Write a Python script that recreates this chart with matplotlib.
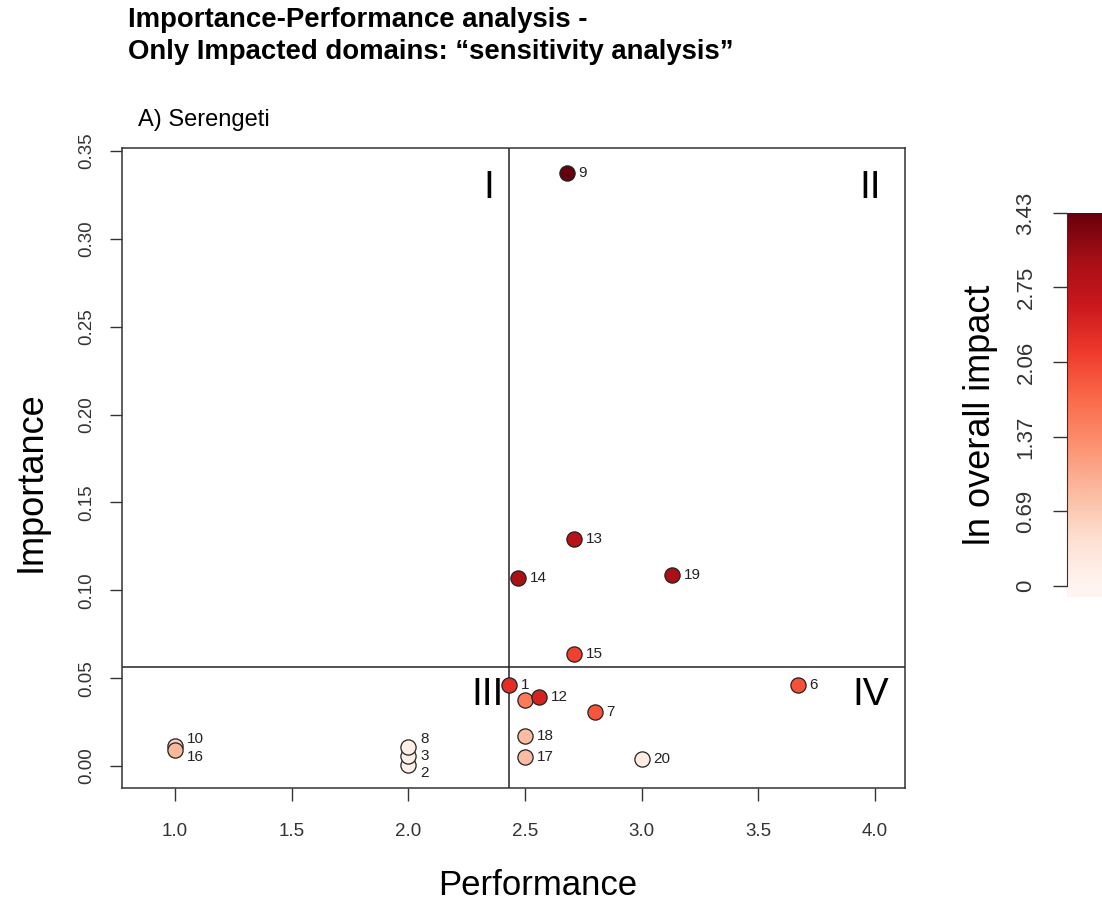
import numpy as np
import matplotlib
matplotlib.use('Agg')
import matplotlib.pyplot as plt

# domain data
domains = ['1', '2', '3', '5', '6', '7', '8', '9', '10', '12',
           '13', '14', '15', '16', '17', '18', '19', '20']
performance = [2.43, 2.0, 2.0, 2.50, 3.67, 2.80, 2.0, 2.68, 1.0, 2.56,
               2.71, 2.47, 2.71, 1.0, 2.50, 2.50, 3.13, 3.0]
importance = [0.046, 0.0006, 0.0057, 0.0376, 0.046, 0.0307, 0.0108, 0.3375, 0.0114, 0.0393,
              0.129, 0.107, 0.0637, 0.0091, 0.0051, 0.0171, 0.1087, 0.0040]
ln_impact = [2.3, 0.08, 0.12, 1.55, 1.95, 1.9, 0.15, 3.43, 0.6, 2.45,
             2.8, 2.95, 2.1, 0.9, 0.85, 0.85, 2.95, 0.2]

x_ticks = [1.0, 1.5, 2.0, 2.5, 3.0, 3.5, 4.0]
y_ticks = [0.00, 0.05, 0.10, 0.15, 0.20, 0.25, 0.30, 0.35]
cbar_ticks = [0, 0.69, 1.37, 2.06, 2.75, 3.43]
x_cut = 2.43
y_cut = 0.0563
quadrants = ['I', 'II', 'III', 'IV']
quad_x = [2.345, 3.98, 2.34, 3.98]
quad_y = [0.329, 0.329, 0.0404, 0.0404]

# labels that were nudged up/down to avoid overlapping (points)
nudge = {'10': 5, '16': -5, '8': 6, '3': 0, '2': -6}

sans = ['Liberation Sans', 'DejaVu Sans']
plt.rcParams['font.family'] = sans

W, H = 1102, 922
fig = plt.figure(figsize=(W / 100, H / 100), dpi=100)
ax = fig.add_axes([122 / W, 1 - 788 / H, (905 - 122) / W, (788 - 148) / H])

cmap = plt.get_cmap('Reds')
vmax = 3.43
ax.axvline(x_cut, color='#222222', lw=1.1, zorder=1)
ax.axhline(y_cut, color='#222222', lw=1.1, zorder=1)
for i in range(len(domains)):
    ax.scatter(performance[i], importance[i], s=120, c=[cmap(ln_impact[i] / vmax)],
               edgecolors='#222222', linewidths=0.9, zorder=3 + i * 0.01)
    ax.annotate(domains[i], (performance[i], importance[i]),
                xytext=(8.5, nudge.get(domains[i], 0)),
                textcoords='offset points', ha='left', va='center',
                fontsize=11, color='#222222', zorder=3 + i * 0.01)
for q, qx, qy in zip(quadrants, quad_x, quad_y):
    ax.text(qx, qy, q, fontsize=28, ha='center', va='center', color='black')

ax.set_xlim(0.773, 4.129)
ax.set_ylim(-0.0125, 0.3517)
ax.set_xticks(x_ticks)
ax.set_xticklabels(['%.1f' % v for v in x_ticks])
ax.set_yticks(y_ticks)
ax.set_yticklabels(['%.2f' % v for v in y_ticks], rotation=90, va='center')
ax.tick_params(axis='x', length=9, width=1, pad=16, labelsize=13.5, colors='#333333')
ax.tick_params(axis='y', length=9, width=1, pad=10, labelsize=13.5, colors='#333333')
for s in ax.spines.values():
    s.set_linewidth(1.1)
    s.set_color('#333333')
ax.set_xlabel('Performance', fontsize=25, va='center')
ax.set_ylabel('Importance', fontsize=26, va='center')
ax.xaxis.set_label_coords((538 - 122) / 783, (788 - 885) / 640)
ax.yaxis.set_label_coords((31 - 122) / 783, (788 - 482) / 640)

# colour key
cax = fig.add_axes([1067 / W, 1 - 597 / H, 35 / W, (597 - 213) / H])
grad = np.linspace(0, vmax, 256).reshape(-1, 1)
cax.imshow(grad, cmap=cmap, vmin=0, vmax=vmax, aspect='auto', origin='lower',
           extent=[0, 1, 0, vmax])
cax.imshow(np.full((1, 1), 0.0), cmap=cmap, vmin=0, vmax=vmax, aspect='auto',
           extent=[0, 1, -0.101, 0])
cax.set_xlim(0, 1)
cax.set_ylim(-0.101, vmax)
cax.set_xticks([])
cax.set_yticks(cbar_ticks)
cax.set_yticklabels(['%g' % v for v in cbar_ticks], rotation=90, va='center')
for side in ['top', 'right', 'bottom']:
    cax.spines[side].set_visible(False)
cax.spines['left'].set_bounds(0, vmax)
cax.spines['left'].set_color('#333333')
cax.tick_params(axis='y', length=10, width=1, pad=12, labelsize=16, colors='#333333')
cax.set_ylabel('ln overall impact', fontsize=26, va='center')
cax.yaxis.set_label_coords((980 - 1067) / 35, (597 - 415) / 384)

fig.text(128 / W, 1 - 7 / H, 'Importance-Performance analysis -\nOnly Impacted domains: \u201csensitivity analysis\u201d',
         fontsize=19.8, fontweight='bold', ha='left', va='top', linespacing=1.3)
fig.text(138 / W, 1 - 120 / H, 'A) Serengeti', fontsize=17, ha='left', va='center')

fig.savefig('out.png', dpi=100)
